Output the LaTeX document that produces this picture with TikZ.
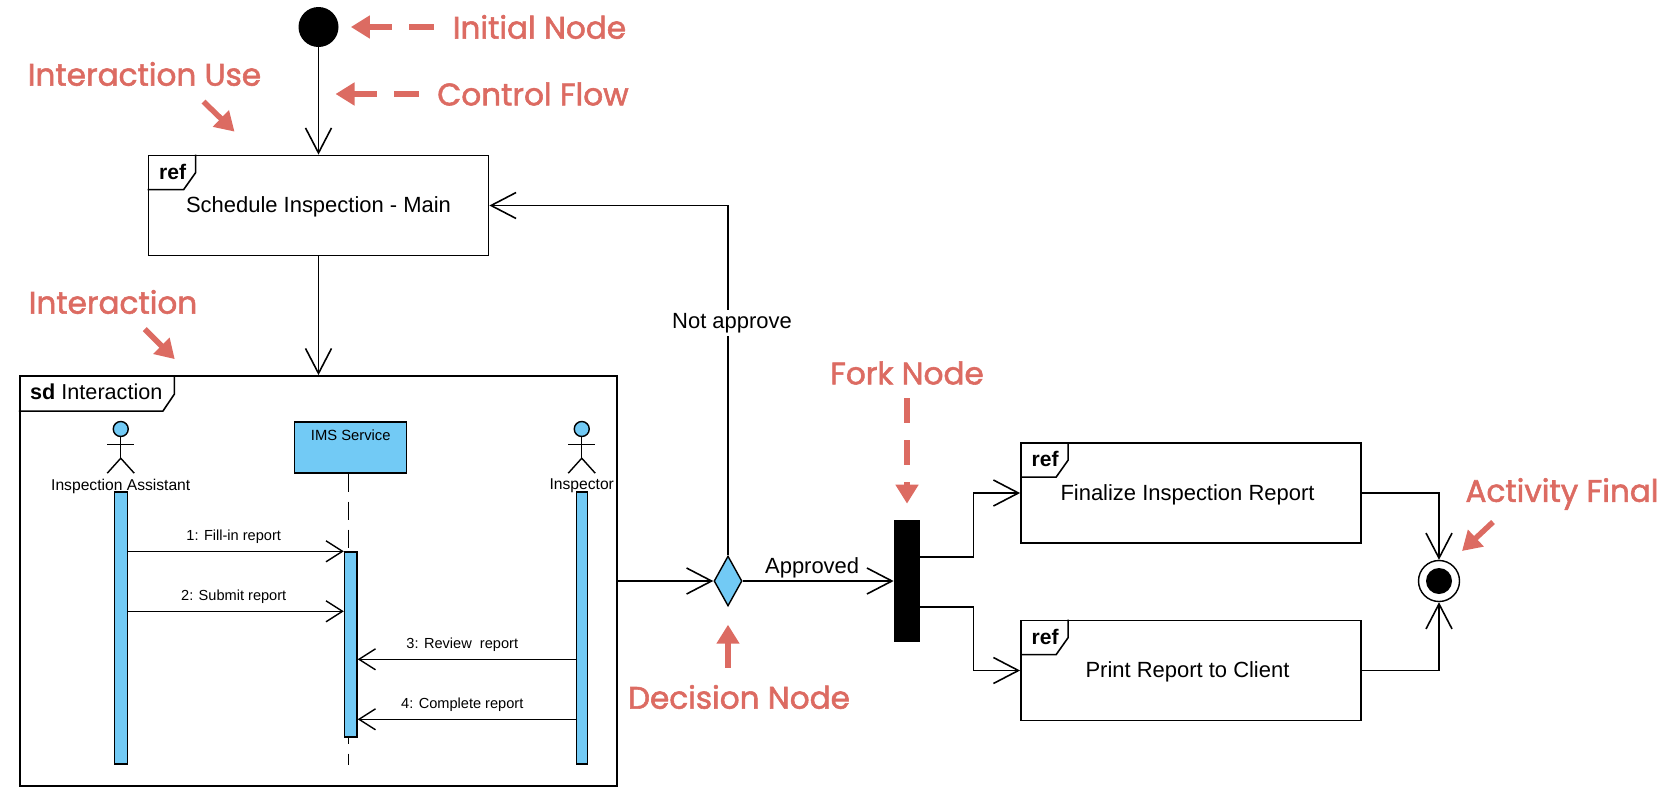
\documentclass[tikz,border=0pt]{standalone}
\usepackage{fontspec}
\setmainfont{Liberation Sans}
\newfontfamily\notefont{Poppins}[FakeBold=1.8]
\usetikzlibrary{arrows.meta,positioning,shapes.geometric}
\definecolor{uiblue}{HTML}{72CAF5}
\definecolor{notered}{HTML}{DC6B62}
\tikzset{
	flow/.style={line width=0.9pt,-{Straight Barb[length=0.5cm,width=0.52cm]}},
	msg/.style={line width=0.8pt,-{Straight Barb[length=0.33cm,width=0.42cm]}},
	refbox/.style={rectangle,draw,line width=1pt,fill=white,minimum width=6.8cm,minimum height=2cm,inner sep=0pt,text height=11pt,text depth=2.6pt,font=\fontsize{12.5pt}{14pt}\selectfont},
	lifebar/.style={rectangle,draw,line width=0.8pt,fill=uiblue,inner sep=0pt},
	actorhead/.style={circle,draw,line width=0.8pt,fill=uiblue,inner sep=0pt,minimum size=0.3cm},
	actorname/.style={inner sep=0pt,font=\fontsize{8.9pt}{10pt}\selectfont},
	msgname/.style={inner sep=0.15cm,pos=0.49,font=\fontsize{8.3pt}{10pt}\selectfont},
	flowname/.style={font=\fontsize{12.5pt}{14pt}\selectfont},
	note/.style={inner sep=0pt,text=notered,font=\notefont\fontsize{17.7pt}{20pt}\selectfont},
	notearrow/.style={line width=0.13cm,draw=notered,-{Triangle[length=0.38cm,width=0.44cm]},dash pattern=on 0.5cm off 0.34cm},
}
\newcommand{\reftab}[1]{
	\draw[line width=0.9pt] (#1.north west) ++(0,-0.7) -- ++(0.72,0) -- ++(0.24,0.34) -- ++(0,0.36);
	\node[inner sep=0pt,text height=8.5pt,text depth=0pt,font=\bfseries\fontsize{12pt}{14pt}\selectfont] (#1tag) at ([shift={(0.5,-0.34)}]#1.north west) {ref};
}
\begin{document}
\begin{tikzpicture}[node distance=1.5cm,on grid,auto]
	\useasboundingbox (0,0) rectangle (33.32,-15.9);
	\node[circle,fill=black,inner sep=0pt,minimum size=0.8cm](init) at (6.37,-0.54) {};
	\node[refbox](schedule)[below=3.57cm of init] {Schedule Inspection - Main};
	\node[rectangle,draw,line width=1pt,fill=white,minimum width=11.95cm,minimum height=8.2cm,inner sep=0pt](sdframe)[below=7.51cm of schedule] {};
	\node[diamond,draw,line width=0.8pt,fill=uiblue,aspect=0.56,inner sep=0pt,minimum width=0.56cm,minimum height=1cm](decision)[right=8.19cm of sdframe] {};
	\node[rectangle,fill=black,inner sep=0pt,minimum width=0.52cm,minimum height=2.44cm](fork)[right=3.58cm of decision] {};
	\node[refbox](finalize)[above right=1.76cm and 5.68cm of fork] {Finalize Inspection Report\hspace{4pt}\null};
	\node[refbox](print)[below=3.55cm of finalize] {Print Report to Client\hspace{4pt}\null};
	\node[circle,draw,line width=0.8pt,fill=white,inner sep=0pt,minimum size=0.82cm](final)[right=10.64cm of fork] {};
	\node[circle,fill=black,inner sep=0pt,minimum size=0.52cm](finaldot) at (final) {};
	\reftab{schedule}
	\reftab{finalize}
	\reftab{print}

	\draw[line width=0.9pt] (sdframe.north west) ++(0,-0.72) -- ++(2.88,0) -- ++(0.23,0.34) -- ++(0,0.38);
	\node[anchor=west,inner sep=0pt,font=\fontsize{12.3pt}{14pt}\selectfont](sdtitle) at ([shift={(0.22,-0.34)}]sdframe.north west) {\textbf{sd} Interaction};

	\node[actorhead](assisthead)[above left=3.04cm and 3.955cm of sdframe] {};
	\node[actorname](assistname)[below=1.14cm of assisthead] {Inspection Assistant};
	\node[lifebar,minimum width=0.26cm,minimum height=5.44cm](assistbar)[below=3.98cm of assisthead] {};
	\node[actorhead](inspecthead)[right=9.22cm of assisthead] {};
	\node[actorname](inspectname)[below=1.14cm of inspecthead] {Inspector};
	\node[lifebar,minimum width=0.22cm,minimum height=5.44cm](inspectbar)[below=3.98cm of inspecthead] {};
	\node[rectangle,draw,line width=0.8pt,fill=uiblue,inner sep=0pt,minimum width=2.24cm,minimum height=1.02cm](imsbox)[above right=2.67cm and 0.645cm of sdframe] {};
	\node[actorname,font=\fontsize{8.4pt}{10pt}\selectfont](imsname)[below=0.16cm of imsbox.north] {IMS Service};
	\coordinate (imstop) at ([xshift=-0.04cm]imsbox.south);
	\coordinate (imsend) at ([yshift=-5.82cm]imstop);
	\draw[line width=0.7pt,dash pattern=on 0.36cm off 0.2cm] (imstop) -- (imsend);
	\node[lifebar,minimum width=0.25cm,minimum height=3.7cm](activebar)[below=3.94cm of imsbox] {};
	\draw[line width=0.8pt] (assisthead.south) -- ++(0,-0.42) coordinate (assisthip) (assisthead.south) ++(-0.27,-0.14) coordinate (assistarm) -- ++(0.54,0);
	\draw[line width=0.8pt] (assisthip) -- ++(-0.27,-0.3);
	\draw[line width=0.8pt] (assisthip) -- ++(0.27,-0.3);
	\draw[line width=0.8pt] (inspecthead.south) -- ++(0,-0.42) coordinate (inspecthip) (inspecthead.south) ++(-0.27,-0.14) coordinate (inspectarm) -- ++(0.54,0);
	\draw[line width=0.8pt] (inspecthip) -- ++(-0.27,-0.3);
	\draw[line width=0.8pt] (inspecthip) -- ++(0.27,-0.3);

	\coordinate (msga) at (activebar.north);
	\coordinate[below=1.2cm of activebar.north] (msgb);
	\coordinate[below=2.16cm of activebar.north] (msgc);
	\coordinate[below=3.36cm of activebar.north] (msgd);
	\path[msg]
	(assistbar.east |- msga) edge node[msgname] {1: Fill-in report} (activebar.west |- msga)
	(assistbar.east |- msgb) edge node[msgname] {2: Submit report} (activebar.west |- msgb)
	(inspectbar.west |- msgc) edge node[msgname,swap,pos=0.52] {3: Review\ \ report} (activebar.east |- msgc)
	(inspectbar.west |- msgd) edge node[msgname,swap,pos=0.52] {4: Complete report} (activebar.east |- msgd);

	\coordinate (forktop) at ([yshift=0.48cm]fork.east);
	\coordinate (forkbot) at ([yshift=-0.52cm]fork.east);
	\draw[flow] (init) -- (schedule);
	\draw[flow] (schedule) -- (sdframe);
	\draw[flow] (sdframe.east) -- (decision);
	\draw[flow] (decision.north) |- node[flowname,auto=false,fill=white,inner sep=2pt,pos=0.332,xshift=0.08cm] {Not approve} (schedule.east);
	\draw[flow] (decision) -- node[flowname,inner sep=0.05cm,pos=0.46] {Approved} (fork);
	\draw[flow] (forktop) -- ++(1.06,0) |- (finalize.west);
	\draw[flow] (forkbot) -- ++(1.06,0) |- (print.west);
	\draw[flow] (finalize.east) -| (final.north);
	\draw[flow] (print.east) -| (final.south);

	\node[note](noteinit)[right=4.42cm of init] {Initial Node};
	\node[note](notecontrol)[below left=1.34cm and 0.13cm of noteinit] {Control Flow};
	\node[note](noteuse)[above left=2.63cm and 3.48cm of schedule] {Interaction Use};
	\node[note](notesd)[above left=5.58cm and 4.11cm of sdframe] {Interaction};
	\node[note](notefork)[above=4.16cm of fork] {Fork Node};
	\node[note](notedecision)[below right=2.32cm and 0.22cm of decision] {Decision Node};
	\node[note](notefinal)[above right=1.74cm and 2.46cm of final] {Activity Final};
	\coordinate (flowpoint) at (init.south |- notecontrol);
	\coordinate[above left=0.46cm and 1.68cm of schedule.north] (usetip);
	\coordinate[above left=0.6cm and 0.62cm of usetip] (usetail);
	\coordinate[above left=0.32cm and 2.875cm of sdframe.north] (sdtip);
	\coordinate[above left=0.6cm and 0.6cm of sdtip] (sdtail);
	\coordinate[above right=0.6cm and 0.46cm of final] (finaltip);
	\coordinate[above right=0.58cm and 0.62cm of finaltip] (finaltail);
	\draw[notearrow,shorten <=0.38cm,shorten >=0.24cm] (noteinit) -- (init);
	\draw[notearrow,shorten <=0.36cm,shorten >=0.34cm] (notecontrol) -- (flowpoint);
	\draw[notearrow,shorten <=0.26cm,shorten >=0.32cm] (notefork) -- (fork);
	\draw[notearrow,shorten <=0.34cm,shorten >=0.36cm] (decision.south |- notedecision.north) -- (decision.south);
	\draw[notearrow,line width=0.11cm,dash pattern=] (usetail) -- (usetip);
	\draw[notearrow,line width=0.11cm,dash pattern=] (sdtail) -- (sdtip);
	\draw[notearrow,line width=0.11cm,dash pattern=] (finaltail) -- (finaltip);
\end{tikzpicture}
\end{document}
